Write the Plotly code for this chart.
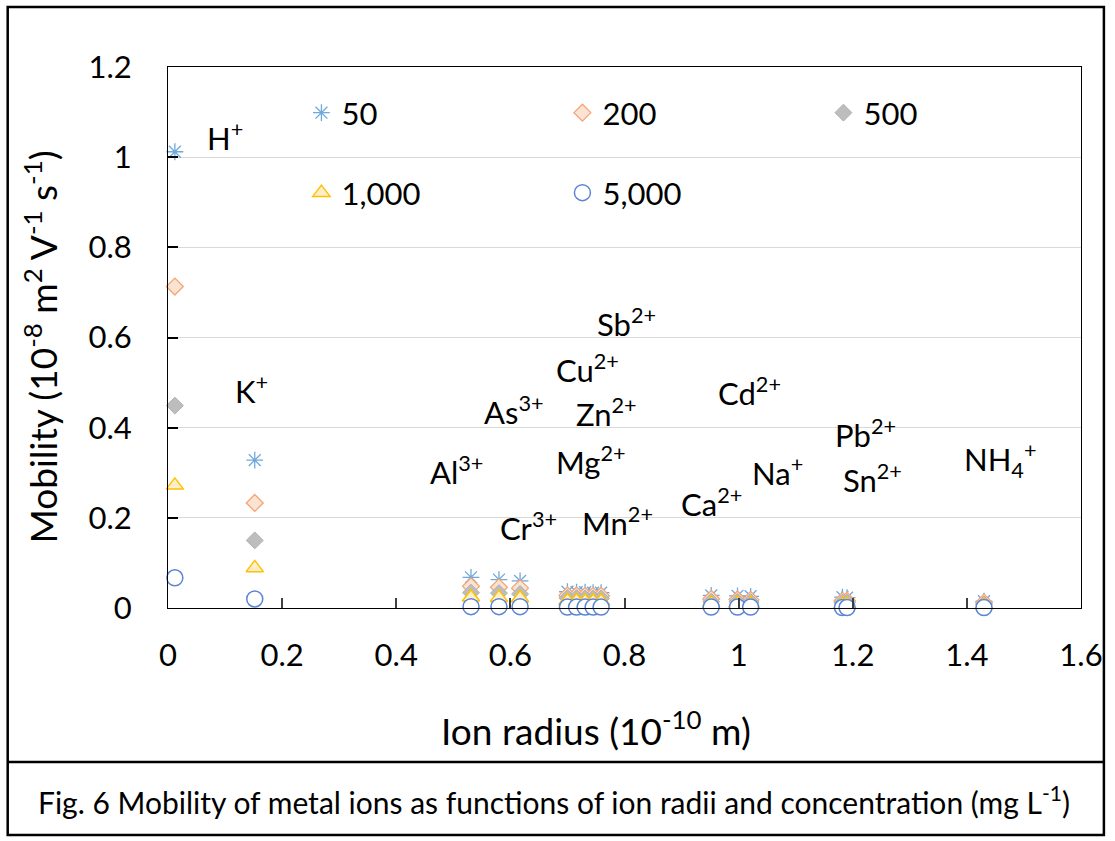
import plotly.graph_objects as go

# Ion radii (10^-10 m), one entry per ion
radius = [0.012, 0.152, 0.531, 0.580, 0.617, 0.700, 0.716, 0.731, 0.745, 0.759,
          0.952, 0.998, 1.021, 1.182, 1.190, 1.430]

# Mobility (10^-8 m2 V-1 s-1) at each concentration (mg L-1)
mob_50 = [1.012, 0.328, 0.068, 0.063, 0.060, 0.036, 0.035, 0.035, 0.034, 0.034,
          0.028, 0.027, 0.026, 0.024, 0.023, 0.015]
mob_200 = [0.713, 0.233, 0.048, 0.046, 0.044, 0.028, 0.028, 0.027, 0.027, 0.027,
           0.020, 0.019, 0.018, 0.016, 0.016, 0.012]
mob_500 = [0.449, 0.150, 0.034, 0.033, 0.031, 0.022, 0.022, 0.021, 0.021, 0.021,
           0.014, 0.014, 0.013, 0.012, 0.012, 0.008]
mob_1000 = [0.272, 0.089, 0.024, 0.023, 0.022, 0.016, 0.016, 0.015, 0.015, 0.015,
            0.010, 0.010, 0.009, 0.008, 0.008, 0.006]
mob_5000 = [0.067, 0.020, 0.003, 0.003, 0.003, 0.002, 0.002, 0.002, 0.002, 0.002,
            0.002, 0.002, 0.002, 0.001, 0.001, 0.001]

# Ion name labels and where they are written (data units)
ion_labels = ["H<sup>+</sup>", "K<sup>+</sup>", "Al<sup>3+</sup>", "As<sup>3+</sup>",
              "Cr<sup>3+</sup>", "Sb<sup>2+</sup>", "Cu<sup>2+</sup>", "Zn<sup>2+</sup>",
              "Mg<sup>2+</sup>", "Mn<sup>2+</sup>", "Cd<sup>2+</sup>", "Ca<sup>2+</sup>",
              "Na<sup>+</sup>", "Pb<sup>2+</sup>", "Sn<sup>2+</sup>", "NH<sub>4</sub><sup>+</sup>"]
label_x = [0.100, 0.147, 0.506, 0.606, 0.632, 0.803, 0.736, 0.768, 0.742, 0.787,
           1.019, 0.953, 1.068, 1.222, 1.234, 1.459]
label_y = [1.045, 0.484, 0.306, 0.437, 0.180, 0.634, 0.532, 0.433, 0.328, 0.191,
           0.481, 0.233, 0.302, 0.388, 0.288, 0.328]

x_ticks = [0, 0.2, 0.4, 0.6, 0.8, 1.0, 1.2, 1.4, 1.6]
x_tick_text = ["0", "0.2", "0.4", "0.6", "0.8", "1", "1.2", "1.4", "1.6"]
y_ticks = [0, 0.2, 0.4, 0.6, 0.8, 1.0, 1.2]
y_tick_text = ["0", "0.2", "0.4", "0.6", "0.8", "1", "1.2"]

FONT = "Lato, 'Open Sans', sans-serif"
W, H = 1115, 841
L, R, T, B = 168, 30, 67, 233
PW, PH = W - L - R, H - T - B


def px(x):
    return (x - L) / PW


def py(y):
    return (H - B - y) / PH


fig = go.Figure()

series = [
    ("50", mob_50, dict(symbol="asterisk-open", size=14, color="#6FA8DC",
                        line=dict(color="#6FA8DC", width=1.3)), "legend"),
    ("200", mob_200, dict(symbol="diamond", size=13, color="#FBE3D3",
                          line=dict(color="#F4A574", width=1.3)), "legend"),
    ("500", mob_500, dict(symbol="diamond", size=13, color="#BDBDBD",
                          line=dict(color="#B0B0B0", width=1)), "legend"),
    ("1,000", mob_1000, dict(symbol="triangle-up", size=15, color="#FFEFC8",
                             line=dict(color="#FFC000", width=1.5)), "legend2"),
    ("5,000", mob_5000, dict(symbol="circle", size=16, color="white",
                             line=dict(color="#5B85D3", width=1.5)), "legend2"),
]
for name, vals, marker, leg in series:
    fig.add_trace(go.Scatter(x=radius, y=vals, mode="markers", name=name,
                             marker=marker, legend=leg, cliponaxis=False))

for txt, lx, ly in zip(ion_labels, label_x, label_y):
    fig.add_annotation(x=lx, y=ly, text=txt, showarrow=False,
                       xanchor="center", yanchor="middle",
                       font=dict(family=FONT, size=31, color="black"))

# axis titles
fig.add_annotation(xref="paper", yref="paper", x=px(598), y=py(728),
                   xanchor="center", yanchor="middle",
                   text="Ion radius (10<sup>-10</sup> m)", showarrow=False,
                   font=dict(family=FONT, size=37, color="black"))
fig.add_annotation(xref="paper", yref="paper", x=px(40), y=py(347), textangle=-90,
                   xanchor="center", yanchor="middle",
                   text="Mobility (10<sup>-8</sup> m<sup>2</sup> V<sup>-1</sup> s<sup>-1</sup>)",
                   showarrow=False, font=dict(family=FONT, size=37, color="black"))

# caption
fig.add_annotation(xref="paper", yref="paper", x=px(556), y=py(800),
                   xanchor="center", yanchor="middle",
                   text="Fig. 6 Mobility of metal ions as functions of ion radii and concentration (mg L<sup>-1</sup>)",
                   showarrow=False, font=dict(family=FONT, size=30, color="black"))

# outer frame and caption divider
fig.add_shape(type="rect", xref="paper", yref="paper",
              x0=px(7), x1=px(1108), y0=py(835), y1=py(7),
              line=dict(color="black", width=2.5), layer="below")
fig.add_shape(type="line", xref="paper", yref="paper",
              x0=px(7), x1=px(1108), y0=py(762), y1=py(762),
              line=dict(color="black", width=2.5))

legend_common = dict(orientation="h", xanchor="left", yanchor="middle",
                     bgcolor="rgba(0,0,0,0)", entrywidth=216, entrywidthmode="pixels",
                     font=dict(family=FONT, size=31, color="black"),
                     itemclick=False, itemdoubleclick=False)

fig.update_layout(
    width=W, height=H,
    margin=dict(l=L, r=R, t=T, b=B),
    paper_bgcolor="white", plot_bgcolor="white",
    font=dict(family=FONT, size=31, color="black"),
    showlegend=True,
    legend=dict(x=px(302), y=py(113), **legend_common),
    legend2=dict(x=px(302), y=py(193), **legend_common),
    xaxis=dict(range=[0, 1.6], tickvals=x_ticks, ticktext=x_tick_text,
               showgrid=False, zeroline=False, showline=True, mirror=True,
               linecolor="black", linewidth=1.2, ticks="inside", ticklen=10,
               tickcolor="#404040", tickwidth=1.5, ticklabelstandoff=20,
               tickfont=dict(family=FONT, size=31, color="black")),
    yaxis=dict(range=[0, 1.2], tickvals=y_ticks, ticktext=y_tick_text,
               showgrid=True, gridcolor="#D9D9D9", gridwidth=1, zeroline=False,
               showline=True, mirror=True, linecolor="black", linewidth=1.2,
               ticks="inside", ticklen=10, tickcolor="black", tickwidth=1.5,
               ticklabelstandoff=29,
               tickfont=dict(family=FONT, size=31, color="black")),
)

fig.write_html("out.html")
